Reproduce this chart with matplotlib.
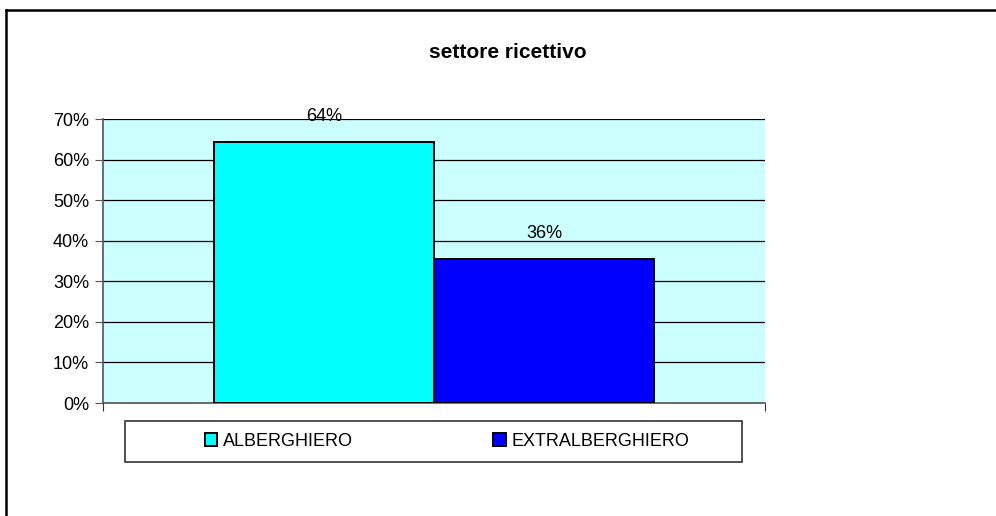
import numpy as np
import matplotlib.pyplot as plt
from matplotlib.lines import Line2D
from matplotlib.patches import Rectangle
from matplotlib.ticker import PercentFormatter

plt.rcParams['font.family'] = ['Liberation Sans', 'DejaVu Sans']

series = ["ALBERGHIERO", "EXTRALBERGHIERO"]
values = [64.4, 35.6]
value_labels = ["64%", "36%"]
colors = ["#00FFFF", "#0000FF"]
yticks = [0, 10, 20, 30, 40, 50, 60, 70]

fig = plt.figure(figsize=(9.96, 5.16), dpi=100)

# outer chart frame (only top and left edges visible in the picture)
fig.add_artist(Line2D([6 / 996, 6 / 996], [0, 1 - 10 / 516], transform=fig.transFigure,
                      color="black", lw=1.8))
fig.add_artist(Line2D([6 / 996, 1], [1 - 10 / 516, 1 - 10 / 516], transform=fig.transFigure,
                      color="black", lw=1.8))

ax = fig.add_axes([103 / 996, 113 / 516, 662 / 996, 284 / 516])
ax.set_facecolor("#CCFFFF")

# one category, two series side by side with 100% gap width
width = 220 / 662
for i, (name, v, c) in enumerate(zip(series, values, colors)):
    x = 0.5 + (i - 0.5) * width
    bars = ax.bar(x, v, width=width, color=c, edgecolor="black", linewidth=1.4,
                  label=name, zorder=3)
    ax.bar_label(bars, labels=[value_labels[i]], padding=12, fontsize=13, zorder=4)

ax.set_xlim(0, 1)
ax.set_ylim(0, 70)
ax.set_yticks(yticks)
ax.yaxis.set_major_formatter(PercentFormatter(decimals=0))
ax.set_xticks([0, 1])
ax.set_xticklabels([])
ax.yaxis.grid(True, color="black", lw=0.9)
ax.set_axisbelow(True)

for side in ["top", "right"]:
    ax.spines[side].set_visible(False)
for side in ["left", "bottom"]:
    ax.spines[side].set_color("#555555")
    ax.spines[side].set_linewidth(1.2)
ax.tick_params(axis="y", direction="out", length=6, color="#555555", labelsize=13, pad=4)
ax.tick_params(axis="x", direction="out", length=6, color="#333333")

fig.text(508 / 996, 1 - 52 / 516, "settore ricettivo", ha="center", va="center",
         fontsize=15, fontweight="bold")

# legend box and entries
fig.add_artist(Rectangle((125 / 996, 1 - 462 / 516), 617 / 996, 41 / 516,
                         transform=fig.transFigure, facecolor="white",
                         edgecolor="#333333", lw=1.2))
leg = fig.legend(loc="center", bbox_to_anchor=(447 / 996, 1 - 441 / 516), ncol=2,
                 frameon=False, fontsize=13, handlelength=0.7, handleheight=0.7,
                 handletextpad=0.3, columnspacing=7.8)

fig.savefig("out.png", dpi=100)
